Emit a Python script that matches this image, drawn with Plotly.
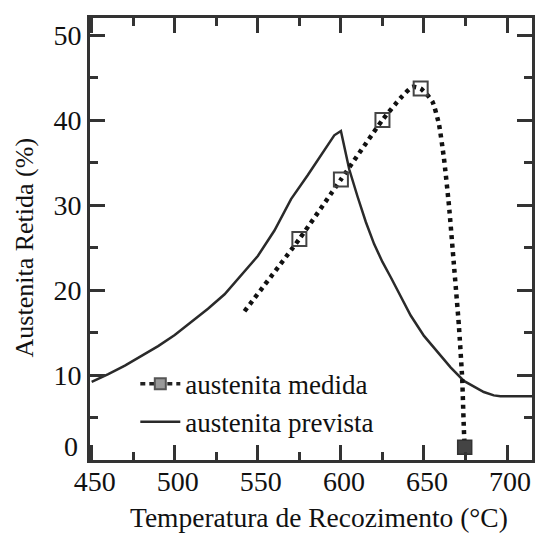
import plotly.graph_objects as go

# predicted austenite (solid line)
prev_x = [450, 460, 470, 480, 490, 500, 510, 520, 530, 540, 550, 560, 570, 580, 590, 596, 600,
          605, 610, 615, 620, 625, 630, 636, 642, 650, 658, 666, 674, 680, 686, 692, 696, 715]
prev_y = [9.2, 10.1, 11.1, 12.2, 13.4, 14.7, 16.2, 17.8, 19.5, 21.7, 24.0, 27.0, 30.7, 33.5, 36.4, 38.2, 38.7,
          34.2, 31.0, 28.0, 25.4, 23.3, 21.5, 19.2, 17.0, 14.6, 12.7, 10.9, 9.3, 8.6, 8.0, 7.6, 7.5, 7.5]

# measured austenite trend (dotted line)
trend_x = [542, 575, 600, 625, 636, 643, 648, 655, 659, 662, 665, 668, 671, 673, 674, 674.5]
trend_y = [17.5, 26.0, 33.0, 40.0, 42.6, 43.9, 43.7, 42.2, 39.5, 35.5, 30.0, 23.0, 15.8, 9.5, 3.6, 1.5]

# measured points
med_x = [575, 600, 625, 648]
med_y = [26.0, 33.0, 40.0, 43.7]
med0_x = [674.5]
med0_y = [1.5]

x_ticks = [450, 500, 550, 600, 650, 700]
y_ticks = [0, 10, 20, 30, 40, 50]
y_ticktext = ["", "10", "20", "30", "40", "50"]

FONT = "Liberation Serif, Times New Roman, serif"
DARK = "#2a2a2a"

fig = go.Figure()
fig.add_trace(go.Scatter(x=prev_x, y=prev_y, mode="lines",
                         line=dict(color=DARK, width=2.5), showlegend=False))
fig.add_trace(go.Scatter(x=trend_x, y=trend_y, mode="lines",
                         line=dict(color="#111", width=4.5, dash="4px,4.5px", shape="spline", smoothing=0.5),
                         showlegend=False))
fig.add_trace(go.Scatter(x=med_x, y=med_y, mode="markers",
                         marker=dict(symbol="square-open", size=14, color="#444", line=dict(width=2, color="#444")),
                         showlegend=False))
fig.add_trace(go.Scatter(x=med0_x, y=med0_y, mode="markers",
                         marker=dict(symbol="square", size=14, color="#444", line=dict(width=1.5, color="#333")),
                         showlegend=False))
# legend entries
fig.add_trace(go.Scatter(x=[None], y=[None], mode="lines+markers", name="austenita medida",
                         line=dict(color="#222", width=3.5, dash="5px,4px"),
                         marker=dict(symbol="square", size=11, color="#999", line=dict(width=2, color="#555"))))
fig.add_trace(go.Scatter(x=[None], y=[None], mode="lines", name="austenita prevista",
                         line=dict(color=DARK, width=2.5)))

axis_common = dict(showline=True, linewidth=3, linecolor="#333", mirror="ticks",
                   ticks="inside", ticklen=15, tickwidth=2.5, tickcolor="#333",
                   showgrid=False, zeroline=False,
                   tickfont=dict(family=FONT, size=28, color="#111"))

fig.update_xaxes(range=[449, 715], tickvals=x_ticks, ticklabelstandoff=-6, ticklabelshift=3,
                 minor=dict(dtick=25, tick0=450, ticks="inside", ticklen=8, tickwidth=2.5, tickcolor="#333"),
                 **axis_common)
fig.update_yaxes(range=[0, 52], tickvals=y_ticks, ticktext=y_ticktext,
                 minor=dict(dtick=5, tick0=0, ticks="inside", ticklen=8, tickwidth=2.5, tickcolor="#333"),
                 **axis_common)

# zero label of y axis (drawn slightly above the axis corner, as in the reference)
fig.add_annotation(text="0", x=0, xref="paper", xanchor="right", xshift=-10,
                   y=y_ticks[0], yref="y", yanchor="middle", yshift=14, showarrow=False,
                   font=dict(family=FONT, size=28, color="#111"))
# axis titles
fig.add_annotation(text="Temperatura de Recozimento (°C)", x=0.519, xref="paper", xanchor="center",
                   y=-0.129, yref="paper", yanchor="middle", showarrow=False,
                   font=dict(family=FONT, size=27.5, color="#111"))
fig.add_annotation(text="Austenita Retida (%)", x=-0.148, xref="paper", xanchor="center",
                   y=0.48, yref="paper", yanchor="middle", textangle=-90, showarrow=False,
                   font=dict(family=FONT, size=26, color="#111"))

fig.update_layout(width=535, height=536,
                  margin=dict(l=90, r=0, t=18, b=76),
                  plot_bgcolor="white", paper_bgcolor="white",
                  legend=dict(x=0.1025, y=0.227, xanchor="left", yanchor="top",
                              bgcolor="rgba(0,0,0,0)", font=dict(family=FONT, size=27, color="#111"),
                              tracegroupgap=0, itemwidth=40))

fig.write_html("out.html")
